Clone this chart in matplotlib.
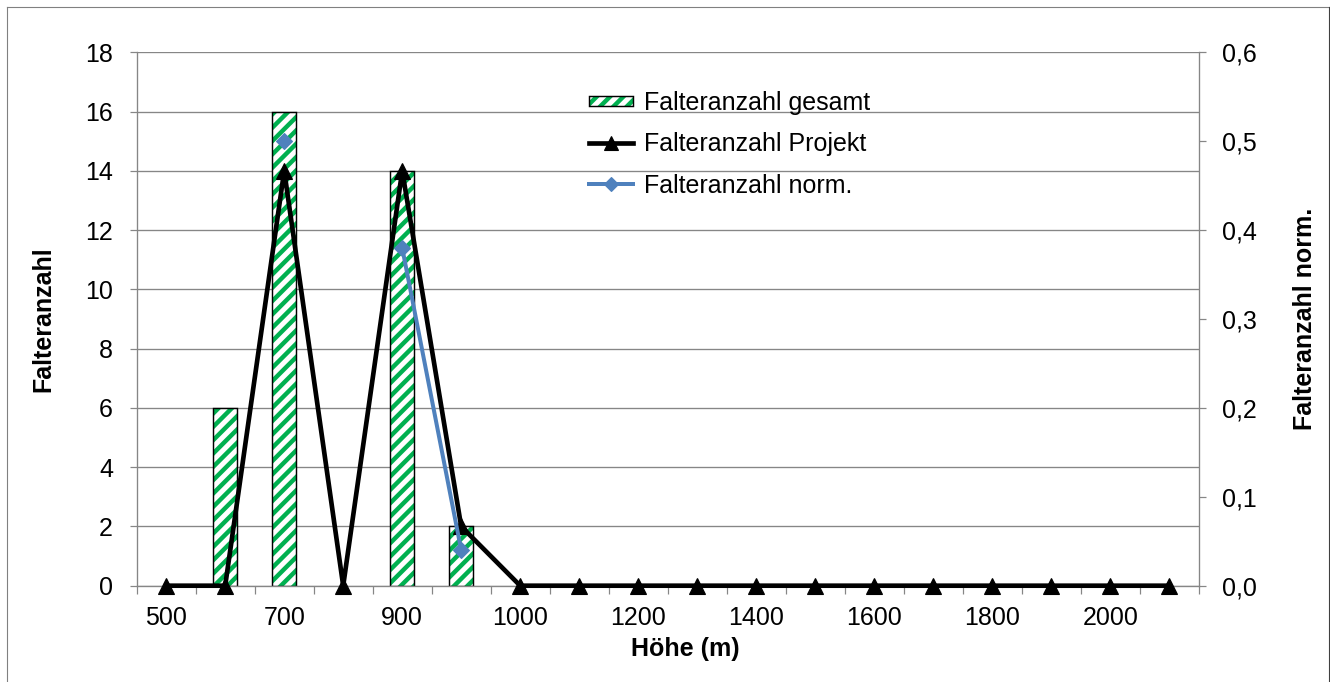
import numpy as np
import matplotlib
matplotlib.use("Agg")
import matplotlib.pyplot as plt
from matplotlib.patches import Patch, Rectangle
from matplotlib.lines import Line2D
from matplotlib.legend_handler import HandlerPatch, HandlerTuple
from matplotlib.ticker import FuncFormatter, MultipleLocator

# Höhenstufen (m) als Kategorien
hoehe = [500, 600, 700, 800, 900, 950, 1000, 1100, 1200, 1300,
         1400, 1500, 1600, 1700, 1800, 1900, 2000, 2100]

# Falteranzahl gesamt (Säulen, linke Achse)
gesamt = [0, 6, 16, 0, 14, 2, 0, 0, 0, 0, 0, 0, 0, 0, 0, 0, 0, 0]

# Falteranzahl Projekt (Linie, linke Achse)
projekt = [0, 0, 14, 0, 14, 2, 0, 0, 0, 0, 0, 0, 0, 0, 0, 0, 0, 0]

# Falteranzahl normiert (Linie, rechte Achse); leere Zellen als NaN
nan = np.nan
norm = [nan, nan, 0.50, nan, 0.38, 0.04, nan, nan, nan, nan,
        nan, nan, nan, nan, nan, nan, nan, nan]

DPI = 80
W, H = 1330, 682
FS = 22.5
GREEN = "#00B050"
BLUE = "#4F81BD"
GRID = "#868686"

plt.rcParams["font.family"] = ["Liberation Sans", "DejaVu Sans"]
plt.rcParams["hatch.linewidth"] = 4.0

fig = plt.figure(figsize=(W / DPI, H / DPI), dpi=DPI)
fig.patch.set_facecolor("white")

left, right, top, bottom = 136.7, 1198.7, 52.3, 585.7
ax = fig.add_axes([left / W, 1 - bottom / H, (right - left) / W, (bottom - top) / H])
ax2 = ax.twinx()

x = np.arange(len(hoehe))

# primary axis: counts
ax.set_xlim(-0.5, len(hoehe) - 0.5)
ax.set_ylim(0, 18)
ax.yaxis.set_major_locator(MultipleLocator(2))
ax.grid(axis="y", color=GRID, linewidth=1.2)
ax.set_axisbelow(True)

# hatched bars (green stripes) with black outline
bx = [x[i] for i, v in enumerate(gesamt) if v > 0]
bh = [v for v in gesamt if v > 0]
ax.bar(bx, bh, width=0.41, color="white", edgecolor=GREEN, hatch="//",
       linewidth=0, zorder=2)
ax.bar(bx, bh, width=0.41, fill=False, edgecolor="black", linewidth=1.3,
       zorder=2.1)

ax.plot(x, projekt, color="black", lw=4.2, marker="^", ms=14,
        zorder=3, clip_on=False)

# secondary axis: normalised counts
ax2.set_ylim(0, 0.6)
ax2.set_yticks([0.0, 0.1, 0.2, 0.3, 0.4, 0.5, 0.6])
ax2.yaxis.set_major_formatter(FuncFormatter(lambda v, p: f"{v:.1f}".replace(".", ",")))
ax2.plot(x, norm, color=BLUE, lw=3.6, marker="D", ms=10,
         zorder=3, clip_on=False)

# spines
for s in ("top", "right"):
    ax.spines[s].set_visible(False)
for s in ("top", "left", "bottom"):
    ax2.spines[s].set_visible(False)
ax.spines["left"].set_color(GRID)
ax.spines["bottom"].set_color(GRID)
ax2.spines["right"].set_color(GRID)
for sp in (ax.spines["left"], ax.spines["bottom"], ax2.spines["right"]):
    sp.set_linewidth(1.2)

# x ticks: marks between categories, labels on every second category
ax.set_xticks(np.arange(-0.5, len(hoehe), 1.0), labels=[""] * (len(hoehe) + 1))
ax.set_xticks(x, minor=True)
ax.set_xticklabels([str(h) if i % 2 == 0 else "" for i, h in enumerate(hoehe)],
                   minor=True)
ax.tick_params(axis="x", which="major", length=7.2, width=1.1, color=GRID,
               direction="out")
ax.tick_params(axis="x", which="minor", length=0, pad=18, labelsize=FS)

ax.tick_params(axis="y", length=6.7, width=1.1, color=GRID, pad=14.7,
               labelsize=FS)
ax2.tick_params(axis="y", length=6.7, width=1.1, color=GRID, pad=14.7,
                labelsize=FS)

# axis titles
fig.text(43 / W, 1 - 319 / H, "Falteranzahl", rotation=90, ha="center",
         va="center", fontsize=FS, fontweight="bold")
fig.text(1305 / W, 1 - 319 / H, "Falteranzahl norm.", rotation=90,
         ha="center", va="center", fontsize=FS, fontweight="bold")
fig.text(685 / W, 1 - 649 / H, "Höhe (m)", ha="center", va="center",
         fontsize=FS, fontweight="bold")


def flat_patch(legend, orig_handle, xdescent, ydescent, width, height, fontsize):
    h = 0.55 * height
    return Rectangle((-xdescent, -ydescent + (height - h) / 2), width, h)


h_bar = (Patch(facecolor="white", edgecolor=GREEN, hatch="//", linewidth=0),
         Patch(fill=False, edgecolor="black", linewidth=1.3))
h_proj = Line2D([], [], color="black", lw=4.2, marker="^", ms=12)
h_norm = Line2D([], [], color=BLUE, lw=3.6, marker="D", ms=9)

ax2.legend([h_bar, h_proj, h_norm],
           ["Falteranzahl gesamt", "Falteranzahl Projekt", "Falteranzahl norm."],
           handler_map={tuple: HandlerTuple(ndivide=1, pad=0),
                        Patch: HandlerPatch(patch_func=flat_patch)},
           loc="upper left", bbox_to_anchor=(589 / W, 1 - 91 / H),
           bbox_transform=fig.transFigure, frameon=False, fontsize=FS,
           borderpad=0, borderaxespad=0, handlelength=1.76,
           handletextpad=0.44, labelspacing=0.7)

# chart area border
fig.add_artist(Line2D([7 / W, 7 / W], [0, 1 - 7 / H], transform=fig.transFigure,
                      color="#808080", lw=1))
fig.add_artist(Line2D([7 / W, 1329 / W], [1 - 7 / H, 1 - 7 / H],
                      transform=fig.transFigure, color="#808080", lw=1))
fig.add_artist(Line2D([1329 / W, 1329 / W], [0, 1 - 7 / H],
                      transform=fig.transFigure, color="#404040", lw=1))

fig.savefig("out.png", dpi=DPI, facecolor="white")
